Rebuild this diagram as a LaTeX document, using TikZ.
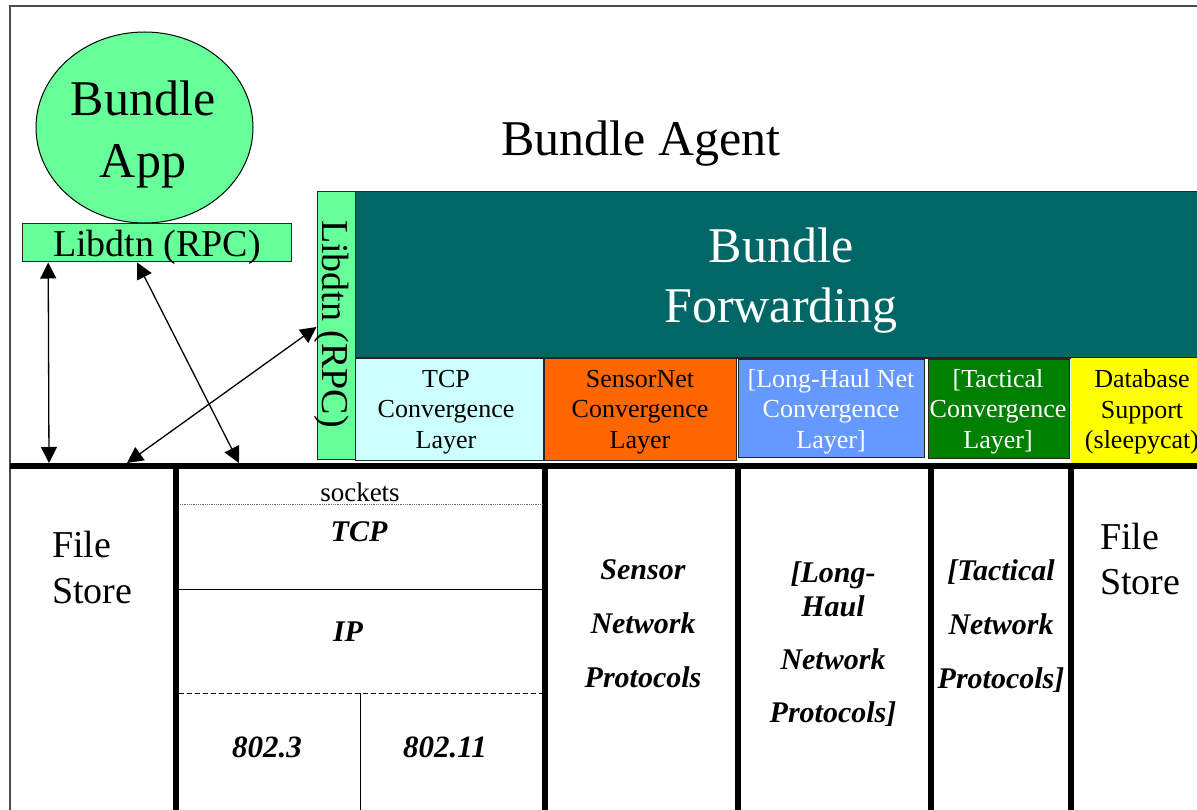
\documentclass[tikz,border=0pt]{standalone}
\usepackage{fontspec}
\setmainfont{Liberation Serif}
\usetikzlibrary{arrows.meta,shapes.geometric}
\definecolor{appgreen}{HTML}{66FF99}
\definecolor{fwdteal}{HTML}{006666}
\definecolor{tcpcyan}{HTML}{CCFFFF}
\definecolor{sensororange}{HTML}{FF6600}
\definecolor{haulblue}{HTML}{6699FF}
\definecolor{tacgreen}{HTML}{008000}
\definecolor{dbyellow}{HTML}{FFFF00}
\newcommand\setfs[2]{\fontsize{#1}{#2}\selectfont}

\begin{document}
\begin{tikzpicture}[x=1pt,y=-1pt,
  box/.style={draw=black!85, line width=1pt, inner sep=0pt},
  cl/.style={font=\setfs{26}{30.5}, align=center, inner sep=0pt},
  proto/.style={font=\setfs{30}{34}\bfseries\itshape, align=center, inner sep=0pt},
  ital/.style={font=\setfs{30}{34}\bfseries\itshape, inner sep=0pt, anchor=base},
  store/.style={font=\setfs{38}{46}, align=left, inner sep=0pt, anchor=west},
  sep/.style={line width=6pt},
  link/.style={line width=1.3pt,
    {Triangle[length=16pt,width=16pt]}-{Triangle[length=16pt,width=16pt]}},
]
\clip (0,0) rectangle (1197,810);
\fill[white] (0,0) rectangle (1197,810);

% outer frame
\draw[line width=1.5pt, black!70] (10,830) -- (10,6) -- (1220,6);

% application side
\node[ellipse, draw=black, line width=1pt, fill=appgreen,
      minimum width=217pt, minimum height=191pt, inner sep=0pt] (app) at (144.5,127.5) {};
\node[font=\setfs{50}{62}, align=center, inner sep=0pt] (apptext) at (143,134.5) {Bundle\\App};
\node[box, fill=appgreen, minimum width=269pt, minimum height=38pt] (libH) at (157.2,243) {};
\node[font=\setfs{38}{46}, anchor=base, inner sep=0pt] (libHtext) at (157,257) {Libdtn (RPC)};

% agent title
\node[font=\setfs{50}{60}, anchor=base, inner sep=0pt] (agent) at (641,156) {Bundle Agent};

% forwarding block
\node[box, fill=fwdteal, minimum width=865pt, minimum height=166pt] (fwd) at (787.5,275) {};
\node[font=\setfs{50}{60}, align=center, text=white, inner sep=0pt] (fwdtext) at (781,280.5) {Bundle\\Forwarding};
\node[box, fill=appgreen, minimum width=38pt, minimum height=267pt] (libV) at (336,325.5) {};
\node[font=\setfs{38}{46}, rotate=-90, anchor=base, inner sep=0pt] (libVtext) at (322,324) {Libdtn (RPC)};

% convergence layers
\node[box, fill=tcpcyan, minimum width=188pt, minimum height=102pt] (tcpcl) at (449,409) {};
\node[box, fill=sensororange, minimum width=192pt, minimum height=102pt] (sensorcl) at (640,409) {};
\node[box, fill=haulblue, minimum width=186pt, minimum height=98pt] (haulcl) at (831,408) {};
\node[box, fill=tacgreen, minimum width=141pt, minimum height=99pt] (taccl) at (998.5,408.5) {};
\node[fill=dbyellow, minimum width=142pt, minimum height=105pt, inner sep=0pt] (dbsup) at (1142,410.5) {};
\node[cl] (tcpcltext) at (446,412) {TCP\\Convergence\\Layer};
\node[cl] (sensorcltext) at (640,412) {SensorNet\\Convergence\\Layer};
\node[cl, text=white] (haulcltext) at (831,411.5) {[Long-Haul Net\\Convergence\\Layer]};
\node[cl, text=white] (taccltext) at (998,411.5) {[Tactical\\Convergence\\Layer]};
\node[cl] (dbsuptext) at (1142,412) {Database\\Support\\(sleepycat)};

% bus and columns
\draw[sep] (10,466) -- (1220,466);
\coordinate (busA) at (49,463);
\coordinate (busB) at (127,463);
\coordinate (busC) at (239,463);
\foreach \cx in {176,545,738,931,1071}
  \draw[sep] (\cx,469) -- (\cx,830);

% IP stack column
\draw[densely dotted, line width=0.8pt, black!60] (180,504) -- (542,504);
\draw[line width=1pt] (179,589) -- (542,589);
\draw[dashed, dash pattern=on 5pt off 3pt, line width=1pt] (179,693) -- (542,693);
\draw[line width=1pt] (360,693) -- (360,830);
\node[font=\setfs{27}{32}, anchor=base, inner sep=0pt] (sockets) at (360,501) {sockets};
\node[ital] (tcp) at (359,541) {TCP};
\node[ital] (ip) at (348,641) {IP};
\node[ital, font=\setfs{31}{34}\bfseries\itshape] (eth) at (267,757) {802.3};
\node[ital, font=\setfs{31}{34}\bfseries\itshape] (wifi) at (445,757) {802.11};

% other columns
\node[store] (fsL) at (52,567) {File\\Store};
\node[proto] (sensorP) at (643,624) {Sensor\\[20pt]Network\\[20pt]Protocols};
\node[proto] (haulP) at (833,644) {[Long-\\Haul\\[19pt]Network\\[19pt]Protocols]};
\node[proto] (tacP) at (1001,626) {[Tactical\\[20pt]Network\\[20pt]Protocols]};
\node[store] (fsR) at (1100,559) {File\\Store};

% RPC links
\draw[link] ([xshift=26pt]libH.south west) -- (busA);
\draw[link] ([xshift=115pt]libH.south west) -- (busC);
\draw[link] ([yshift=-1.5pt]libV.west) -- (busB);
\end{tikzpicture}
\end{document}
